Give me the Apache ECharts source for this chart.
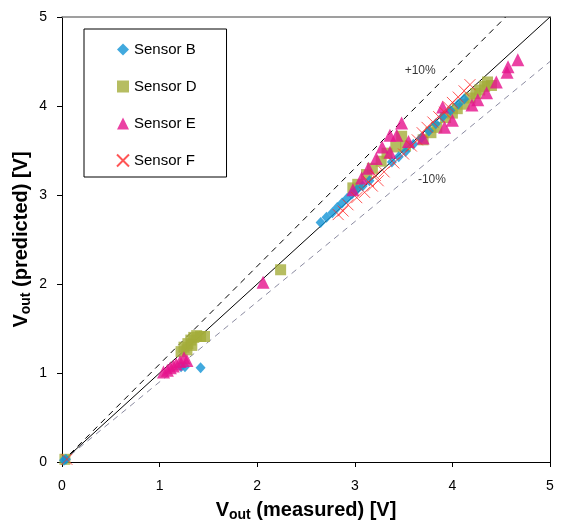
<!DOCTYPE html>
<html>
<head>
<meta charset="utf-8">
<script src="https://cdn.jsdelivr.net/npm/echarts@6/dist/echarts.min.js"></script>
<style>html,body{margin:0;padding:0;background:#fff}#c{width:561px;height:527px}</style>
</head>
<body>
<div id="c"></div>
<script>
var xTicks = [0, 1, 2, 3, 4, 5];
var yTicks = [0, 1, 2, 3, 4, 5];

var sensorB = [[0.02,0.02],[0.04,0.03],[1.22,1.07],[1.26,1.07],[1.42,1.06],
  [2.65,2.69],[2.71,2.75],[2.77,2.80],[2.82,2.86],[2.87,2.91],[2.92,2.96],[2.97,3.01],[3.02,3.06],[3.08,3.10],[3.15,3.16],
  [3.38,3.37],[3.45,3.43],[3.52,3.49],[3.60,3.57],[3.68,3.64],[3.76,3.72],[3.83,3.80],[3.90,3.88],[3.98,3.95],[4.06,4.02],[4.12,4.08]];

var sensorD = [[0.03,0.03],[1.22,1.24],[1.25,1.29],[1.29,1.33],[1.32,1.37],[1.35,1.40],[1.38,1.42],[1.42,1.41],[1.46,1.41],[1.28,1.26],[1.33,1.31],
  [2.24,2.16],
  [2.98,3.08],[3.03,3.12],[3.12,3.23],[3.18,3.30],[3.27,3.38],[3.33,3.47],[3.42,3.54],[3.48,3.66],[3.52,3.55],[3.70,3.62],[3.78,3.70],
  [3.84,3.76],[3.93,3.87],[4.00,3.92],[4.05,3.97],[4.12,4.02],[4.18,4.09],[4.24,4.14],[4.28,4.18],[4.33,4.22],[4.36,4.27],[4.40,4.23]];

var sensorE = [[1.04,1.01],[1.08,1.03],[1.11,1.06],[1.14,1.08],[1.17,1.10],[1.21,1.13],[1.25,1.17],[1.28,1.14],
  [2.06,2.02],
  [2.98,3.06],[3.07,3.19],[3.14,3.30],[3.22,3.41],[3.28,3.54],[3.36,3.48],[3.36,3.67],[3.43,3.67],[3.48,3.81],[3.55,3.60],[3.70,3.64],
  [3.90,3.99],[3.92,3.76],[4.00,3.84],[4.20,4.01],[4.26,4.07],[4.35,4.15],[4.45,4.27],[4.56,4.38],[4.57,4.44],[4.67,4.52]];

var sensorF = [[0.05,0.03],
  [2.83,2.78],[2.88,2.82],[2.93,2.89],[3.02,2.97],[3.10,3.03],[3.18,3.10],[3.24,3.16],[3.14,3.15],[3.21,3.22],[3.30,3.26],
  [3.40,3.36],[3.50,3.46],[3.58,3.55],[3.64,3.62],[3.69,3.70],[3.74,3.76],[3.80,3.82],[3.86,3.88],[3.92,3.93],[3.96,3.99],
  [4.00,4.04],[4.06,4.10],[4.12,4.17],[4.18,4.24]];

var lineEqual = [[0,0],[5,5]];
var linePlus10 = [[0,0],[5/1.1,5]];
var lineMinus10 = [[0,0],[5,4.5]];
var bandLabels = [
  {value: [3.67, 4.40], text: '+10%'},
  {value: [3.79, 3.17], text: '-10%'}
];

var FONT = 'Arial, "Liberation Sans", sans-serif';
var XPATH = 'path://M0,0L10,10M10,0L0,10';
var nameRich = {
  b: {fontFamily: FONT, fontSize: 20, fontWeight: 'bold', color: '#000'},
  s: {fontFamily: FONT, fontSize: 14, fontWeight: 'bold', color: '#000', verticalAlign: 'bottom', padding: [9,0,0,0]}
};

var chart = echarts.init(document.getElementById('c'), null, {renderer: 'canvas'});
chart.setOption({
  animation: false,
  backgroundColor: '#fff',
  grid: {left: 62, right: 11, top: 17, bottom: 65, containLabel: false, outerBoundsMode: 'none'},
  legend: {
    orient: 'vertical', left: 84, top: 29,
    padding: [13, 30, 9, 32],
    borderColor: '#000', borderWidth: 1,
    itemWidth: 12, itemHeight: 12, itemGap: 22,
    textStyle: {fontFamily: FONT, fontSize: 15, color: '#000'},
    data: ['Sensor B', 'Sensor D', 'Sensor E', 'Sensor F']
  },
  xAxis: [{
    type: 'value', min: 0, max: 5, interval: 1,
    name: '{b|V}{s|out}{b| (measured) [V]}', nameLocation: 'middle', nameGap: 37,
    nameTextStyle: {rich: nameRich},
    axisLine: {onZero: false, lineStyle: {color: '#000', width: 1}},
    axisTick: {show: true, inside: false, length: 5, lineStyle: {color: '#000'}},
    axisLabel: {fontFamily: FONT, fontSize: 14, color: '#000', margin: 17,
      formatter: function(v){ return xTicks.indexOf(v) >= 0 ? String(v) : ''; }},
    splitLine: {show: false}
  }, {
    type: 'value', min: 0, max: 5, position: 'top',
    axisLine: {show: true, onZero: false, lineStyle: {color: '#808080', width: 1.5}},
    axisTick: {show: false}, axisLabel: {show: false}, splitLine: {show: false}
  }],
  yAxis: [{
    type: 'value', min: 0, max: 5, interval: 1,
    name: '{b|V}{s|out}{b| (predicted) [V]}', nameLocation: 'middle', nameGap: 29,
    nameMoveOverlap: false,
    nameTextStyle: {rich: nameRich},
    axisLine: {show: true, onZero: false, lineStyle: {color: '#000', width: 1}},
    axisTick: {show: true, inside: false, length: 5, lineStyle: {color: '#000'}},
    axisLabel: {fontFamily: FONT, fontSize: 14, color: '#000', margin: 15,
      formatter: function(v){ return yTicks.indexOf(v) >= 0 ? String(v) : ''; }},
    splitLine: {show: false}
  }, {
    type: 'value', min: 0, max: 5, position: 'right',
    axisLine: {show: true, onZero: false, lineStyle: {color: '#000', width: 1}},
    axisTick: {show: false}, axisLabel: {show: false}, splitLine: {show: false}
  }],
  series: [
    {type: 'line', data: lineEqual, symbol: 'none', silent: true, z: 1,
     lineStyle: {color: '#000', width: 1}},
    {type: 'line', data: linePlus10, symbol: 'none', silent: true, z: 1,
     lineStyle: {color: '#000', width: 1, type: [6, 5]}},
    {type: 'line', data: lineMinus10, symbol: 'none', silent: true, z: 1,
     lineStyle: {color: '#8a8aa0', width: 1, type: [6, 5]}},
    {type: 'scatter', data: bandLabels, symbol: 'circle', symbolSize: 1, silent: true, z: 2,
     itemStyle: {color: 'rgba(0,0,0,0)'},
     label: {show: true, position: 'inside', formatter: function(p){ return p.data.text; },
       fontFamily: FONT, fontSize: 12, color: '#000'}},
    {name: 'Sensor D', type: 'scatter', data: sensorD, symbol: 'rect', symbolSize: 11, z: 3,
     itemStyle: {color: '#a4ac3a'}},
    {name: 'Sensor B', type: 'scatter', data: sensorB, symbol: 'diamond', symbolSize: [10, 11], z: 4,
     itemStyle: {color: '#1294d6'}},
    {name: 'Sensor E', type: 'scatter', data: sensorE, symbol: 'triangle', symbolSize: 13, z: 5,
     itemStyle: {color: '#e6128c'}},
    {name: 'Sensor F', type: 'scatter', data: sensorF, symbol: XPATH, symbolSize: 11, z: 6,
     itemStyle: {color: 'rgba(0,0,0,0)', borderColor: '#ff2a2a', borderWidth: 1}}
  ]
});
</script>
</body>
</html>
